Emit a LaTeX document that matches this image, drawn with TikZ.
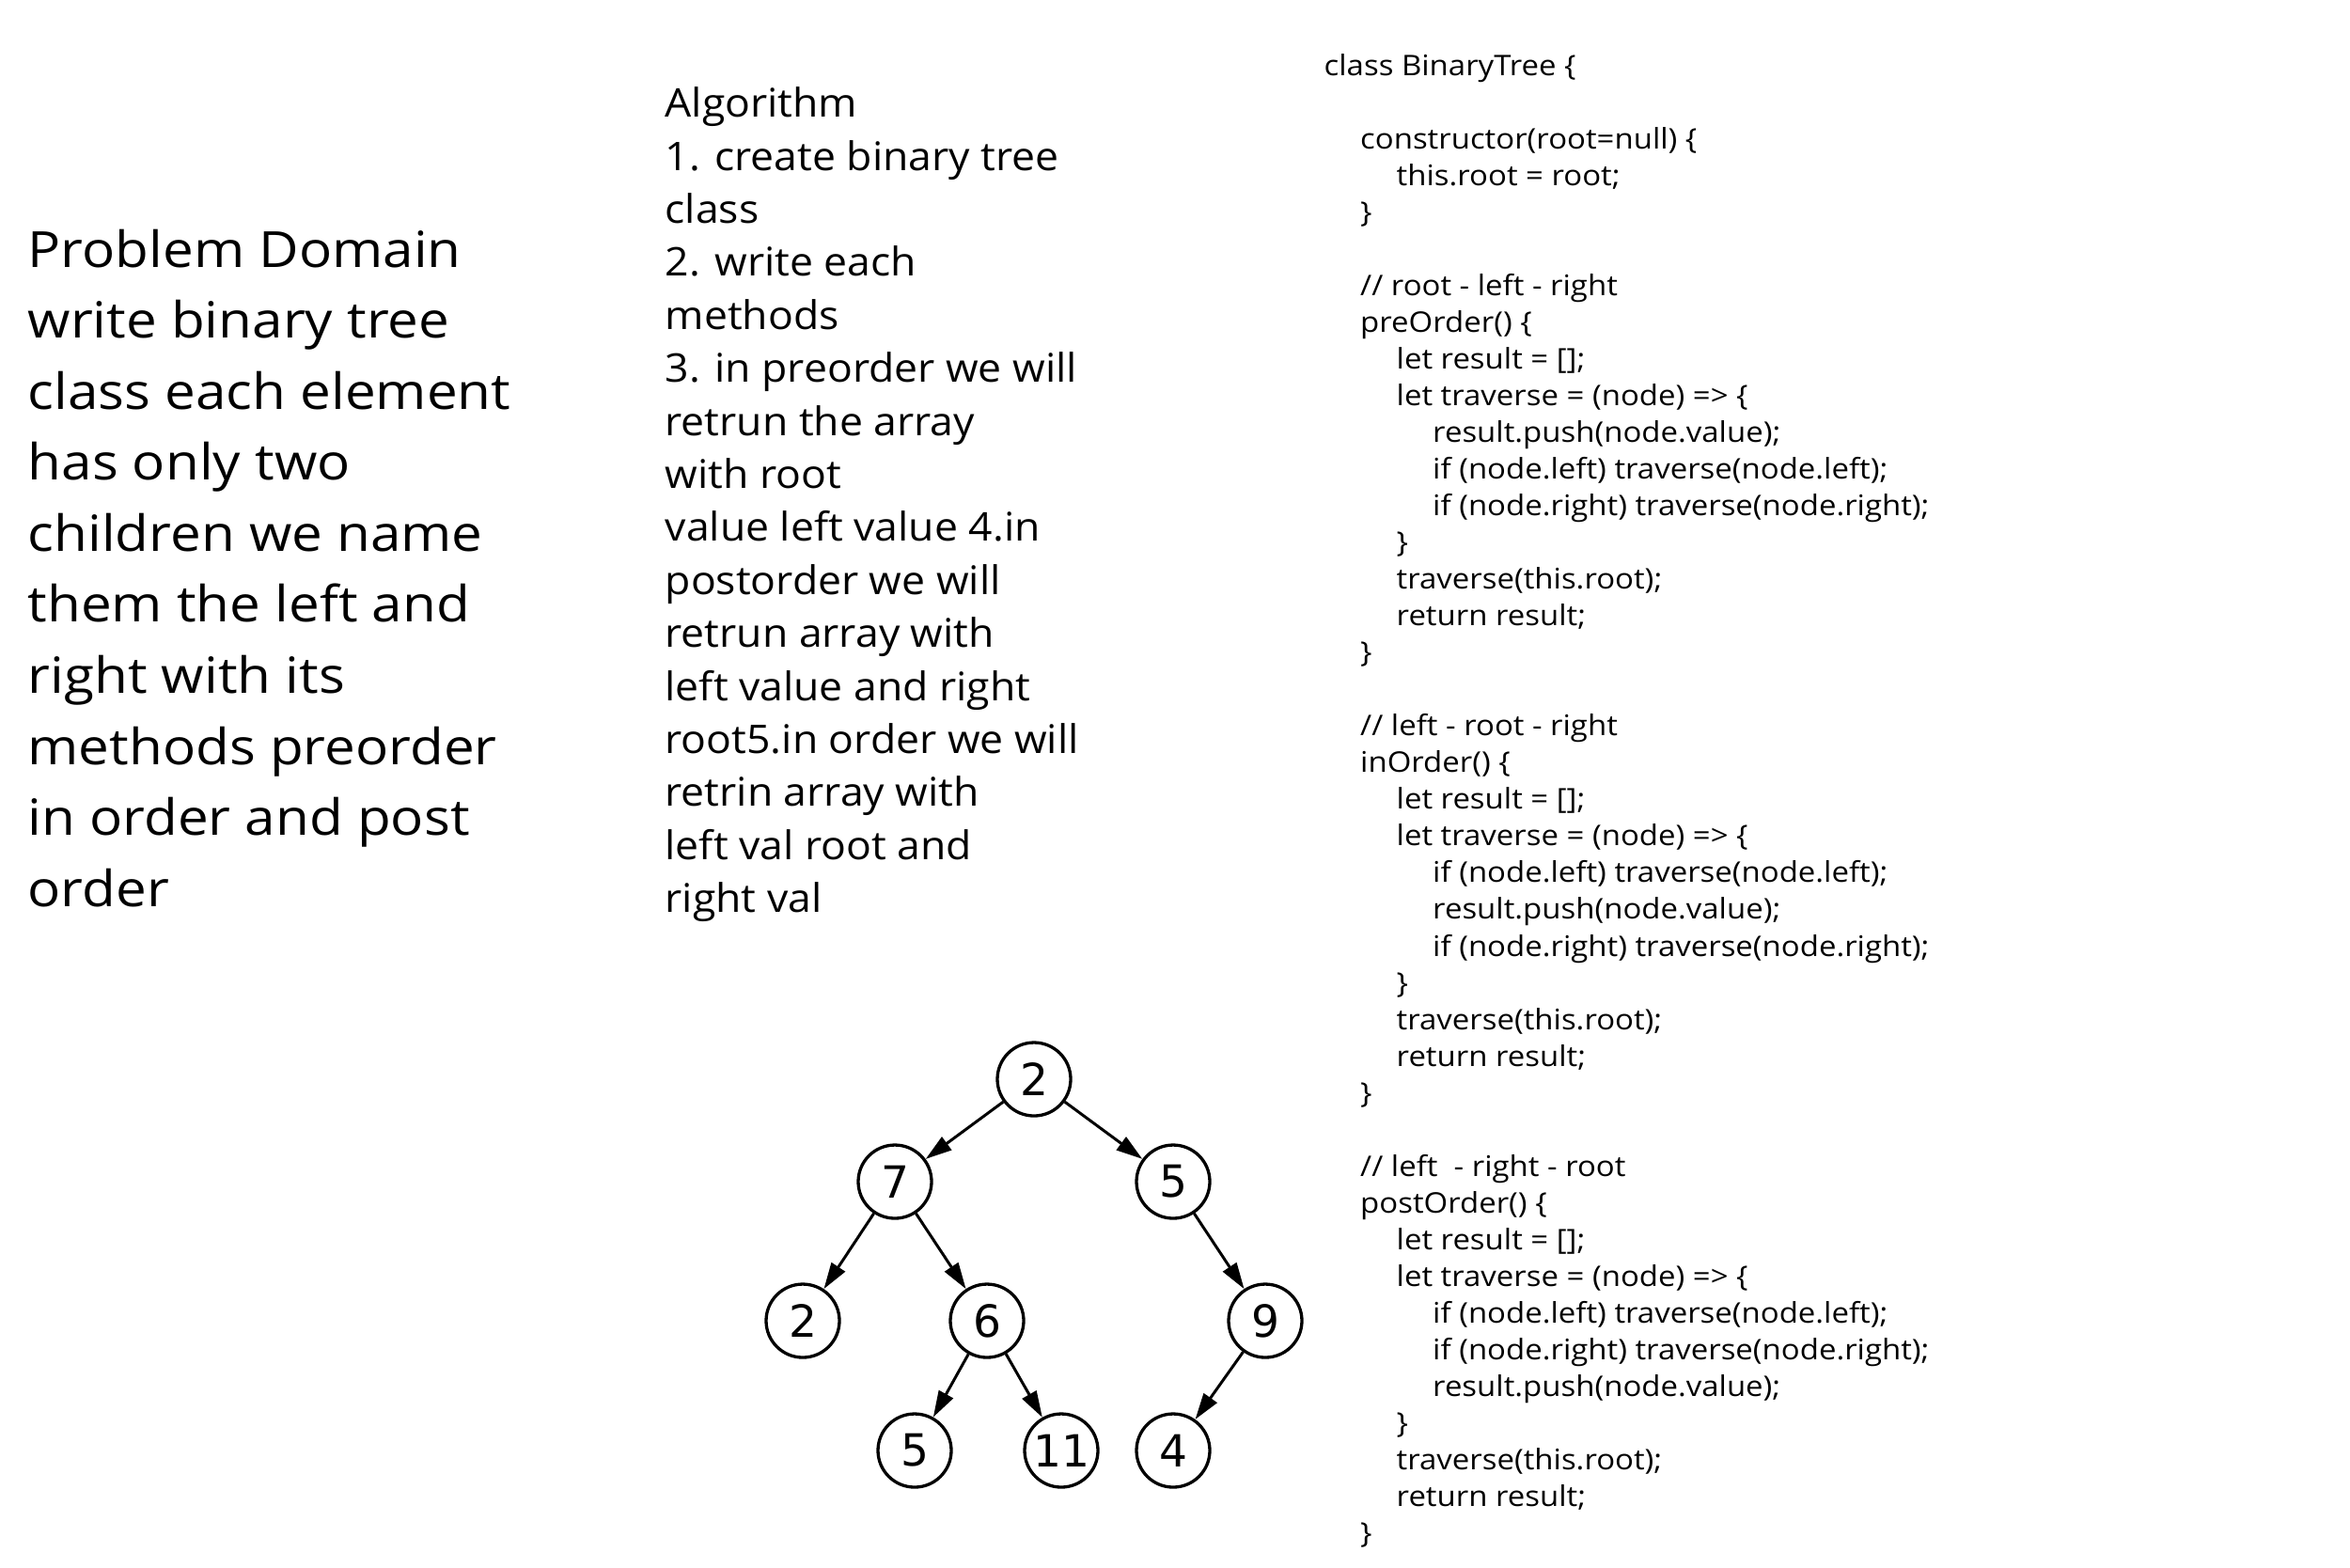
\documentclass[tikz,border=0pt]{standalone}
\usepackage{fontspec}
\setmainfont{Open Sans}
\newfontfamily\digitfont{DejaVu Sans}
\newfontfamily\handfont[FakeStretch=1.1]{Open Sans}
\newfontfamily\stepfont[FakeStretch=1.06]{Open Sans}
\newfontfamily\codefont[FakeStretch=1.09]{Open Sans}
\usetikzlibrary{arrows.meta, positioning}
\tikzstyle{treenode} = [circle, draw, line width=0.94pt, minimum size=0.78cm, inner sep=0pt, font=\digitfont\fontsize{13.4}{16}\selectfont]
\tikzstyle{arrow} = [-{Triangle[length=0.28cm, width=0.17cm]}, line width=0.85pt]
\tikzstyle{prose} = [align=left, inner sep=0pt, anchor=north west, font=\handfont\fontsize{15.1}{21.5}\selectfont]
\tikzstyle{steps} = [align=left, inner sep=0pt, anchor=north west, font=\stepfont\fontsize{11.95}{16.05}\selectfont]
\tikzstyle{code} = [align=left, inner sep=0pt, anchor=north west, font=\codefont\fontsize{8.6}{11.1}\selectfont]
\newcommand{\codetab}{\hspace*{0.385cm}}

\begin{document}
\begin{tikzpicture}[node distance=1cm, on grid]

\fill[white] (0,0) rectangle (25,-16.67);
\useasboundingbox (0,0) rectangle (25,-16.67);

% Left column: problem domain
\node[prose] (problem) at (0.29,-2.43) {Problem Domain\\write binary tree\\class each element\\has only two\\children we name\\them the left and\\right with its\\methods preorder\\in order and post\\order};

% Middle column: algorithm
\node[steps] (algorithm) at (7.07,-0.92) {Algorithm\\1. create binary tree\\class\\2. write each\\methods\\3. in preorder we will\\retrun the array\\with root\\value left value 4.in\\postorder we will\\retrun array with\\left value and right\\root5.in order we will\\retrin array with\\left val root and\\right val};

% Right column: code
\node[code] (source) at (14.08,-0.57) {class BinaryTree \{\\
\mbox{}\\
\codetab constructor(root=null) \{\\
\codetab\codetab this.root = root;\\
\codetab \}\\
\mbox{}\\
\codetab // root - left - right\\
\codetab preOrder() \{\\
\codetab\codetab let result = [];\\
\codetab\codetab let traverse = (node) => \{\\
\codetab\codetab\codetab result.push(node.value);\\
\codetab\codetab\codetab if (node.left) traverse(node.left);\\
\codetab\codetab\codetab if (node.right) traverse(node.right);\\
\codetab\codetab \}\\
\codetab\codetab traverse(this.root);\\
\codetab\codetab return result;\\
\codetab \}\\
\mbox{}\\
\codetab // left - root - right\\
\codetab inOrder() \{\\
\codetab\codetab let result = [];\\
\codetab\codetab let traverse = (node) => \{\\
\codetab\codetab\codetab if (node.left) traverse(node.left);\\
\codetab\codetab\codetab result.push(node.value);\\
\codetab\codetab\codetab if (node.right) traverse(node.right);\\
\codetab\codetab \}\\
\codetab\codetab traverse(this.root);\\
\codetab\codetab return result;\\
\codetab \}\\
\mbox{}\\
\codetab // left~ - right - root\\
\codetab postOrder() \{\\
\codetab\codetab let result = [];\\
\codetab\codetab let traverse = (node) => \{\\
\codetab\codetab\codetab if (node.left) traverse(node.left);\\
\codetab\codetab\codetab if (node.right) traverse(node.right);\\
\codetab\codetab\codetab result.push(node.value);\\
\codetab\codetab \}\\
\codetab\codetab traverse(this.root);\\
\codetab\codetab return result;\\
\codetab \}};

% Binary tree
\node[treenode] (root) at (11.00,-11.48) {2};
\node[treenode, below left=1.09cm and 1.48cm of root] (seven) {7};
\node[treenode, below right=1.09cm and 1.48cm of root] (five) {5};
\node[treenode, below left=1.48cm and 0.98cm of seven] (two) {2};
\node[treenode, below right=1.48cm and 0.98cm of seven] (six) {6};
\node[treenode, below right=1.48cm and 0.98cm of five] (nine) {9};
\node[treenode, below left=1.38cm and 0.77cm of six] (fiveleaf) {5};
\node[treenode, below right=1.38cm and 0.79cm of six] (eleven) {11};
\node[treenode, below left=1.38cm and 0.98cm of nine] (four) {4};

% Tree edges
\draw[arrow] (root) -- (seven);
\draw[arrow] (root) -- (five);
\draw[arrow] (seven) -- (two);
\draw[arrow] (seven) -- (six);
\draw[arrow] (five) -- (nine);
\draw[arrow] (six) -- (fiveleaf);
\draw[arrow] (six) -- (eleven);
\draw[arrow] (nine) -- (four);

\end{tikzpicture}
\end{document}
